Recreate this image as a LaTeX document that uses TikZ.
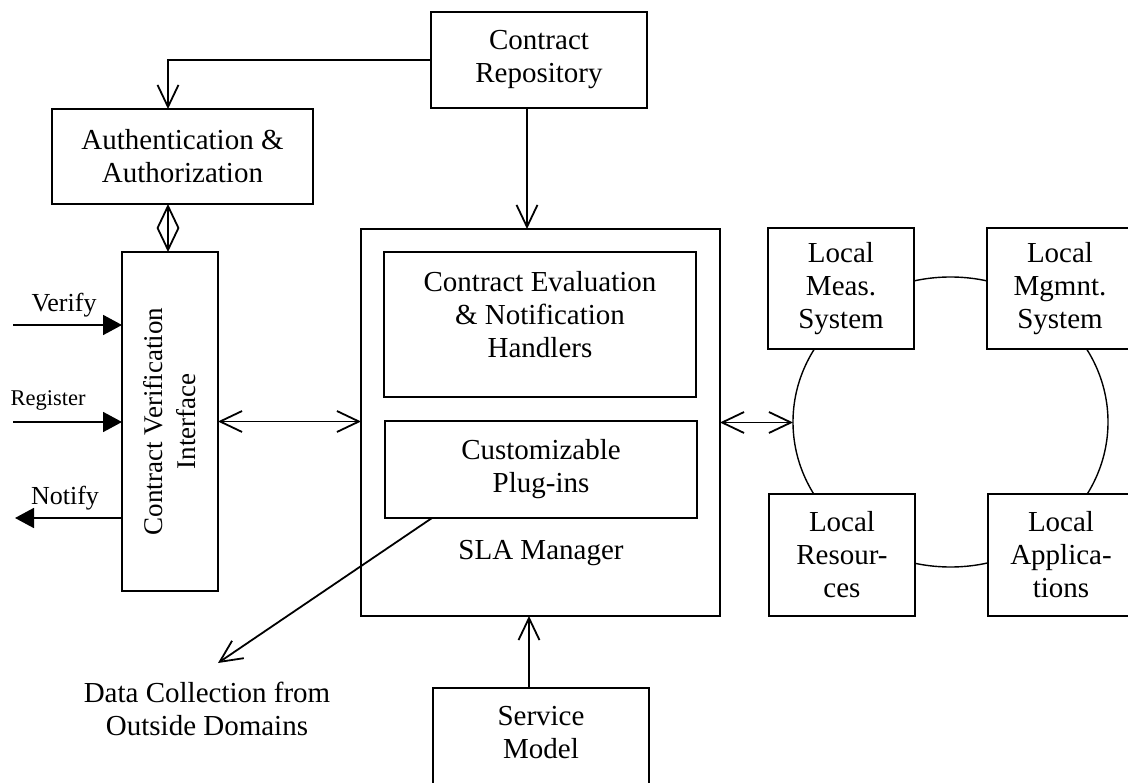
\documentclass[tikz,border=0pt]{standalone}
\usepackage{fontspec}
\setmainfont{Liberation Serif}
\usetikzlibrary{arrows.meta,shapes.geometric,calc}

\tikzset{
  box/.style={draw, rectangle, line width=1.8pt, fill=white, inner sep=0pt, outer sep=0pt, align=center},
  txt/.style={inner sep=0pt, outer sep=0pt, align=center},
  link/.style={line width=1.8pt},
  barb/.tip={Straight Barb[length=22pt,width=21pt,line width=1.8pt]},
  openhead/.style={-barb},
  openboth/.style={barb-barb},
  solidhead/.style={-{Triangle[length=19pt,width=20pt]}},
  big/.style={font=\fontsize{29}{33}\selectfont},
}

\begin{document}
\begin{tikzpicture}[x=1pt,y=-1pt,big]
\useasboundingbox (0,0) rectangle (1128,783);
\clip (0,0) rectangle (1128,783);

% local subsystems on a shared ring
\node[draw, ellipse, line width=1.4pt, inner sep=0pt, outer sep=0pt,
      minimum width=315, minimum height=290] (ring) at (950.5,422) {};
\node[box, minimum width=146, minimum height=121] (meas) at (841,288.5) {Local\\Meas.\\System};
\node[box, minimum width=146, minimum height=121] (mgmt) at (1060,288.5) {Local\\Mgmnt.\\System};
\node[box, minimum width=146, minimum height=122] (res)  at (842,555) {Local\\Resour-\\ces};
\node[box, minimum width=146, minimum height=122] (app)  at (1061,555) {Local\\Applica-\\tions};

% main blocks
\node[box, minimum width=216, minimum height=96] (repo) at (539,60) {Contract\\Repository};
\node[box, minimum width=261, minimum height=95] (auth) at (182.5,156.5) {Authentication \&\\Authorization};
\node[box, minimum width=96, minimum height=339] (cvi) at (170,421.5) {};
\node[txt, rotate=90, font=\fontsize{27}{33}\selectfont] (cvitext) at (cvi.center) {Contract Verification\\Interface};

\node[box, minimum width=359, minimum height=387] (sla) at (540.5,422.5) {};
\node[box, minimum width=312, minimum height=145] (eval) at (540,324.5) {};
\node[txt] (evaltext) at (540,315) {Contract Evaluation\\\& Notification\\Handlers};
\node[box, minimum width=312, minimum height=97] (plug) at (541,469.5) {Customizable\\Plug-ins};
\node[txt] (slatext) at (541,553) {SLA Manager};

\node[box, minimum width=216, minimum height=112] (svc) at (541,744) {};
\node[txt] (svctext) at (541,733) {Service\\Model};

\node[txt] (data) at (207,709) {Data Collection from\\Outside Domains};

% external interface labels
\node[txt, font=\fontsize{26}{30}\selectfont] (verify) at (64,305) {Verify};
\node[txt, font=\fontsize{22.5}{26}\selectfont] (register) at (48,400) {Register};
\node[txt, font=\fontsize{26}{30}\selectfont] (notify) at (65,498) {Notify};

% helper coordinates
\coordinate (ax) at (168,0);
\coordinate (bx) at (527,0);
\coordinate (sx) at (529,0);
\coordinate (px) at (432,0);
\coordinate (dc) at (218,663);
\coordinate (vin) at (13,325);
\coordinate (rin) at (13,422);
\coordinate (nout) at (15,518);

% connectors
\draw[link, openhead] (repo.west) -| (auth.north -| ax);
\draw[link, openhead] (repo.south -| bx) -- (sla.north -| bx);
\draw[link, openboth] (auth.south -| ax) -- (cvi.north -| ax);
\draw[link, openboth] (cvi.east) -- (cvi.east -| sla.west);
\draw[link, openboth] (sla.east) -- (sla.east -| ring.west);
\draw[link, openhead] (svc.north -| sx) -- (sla.south -| sx);
\draw[link, openhead] (plug.south -| px) -- (dc);

\draw[link, solidhead] (vin) -- (vin -| cvi.west);
\draw[link, solidhead] (rin) -- (rin -| cvi.west);
\draw[link, solidhead] (nout -| cvi.west) -- (nout);
\end{tikzpicture}
\end{document}
